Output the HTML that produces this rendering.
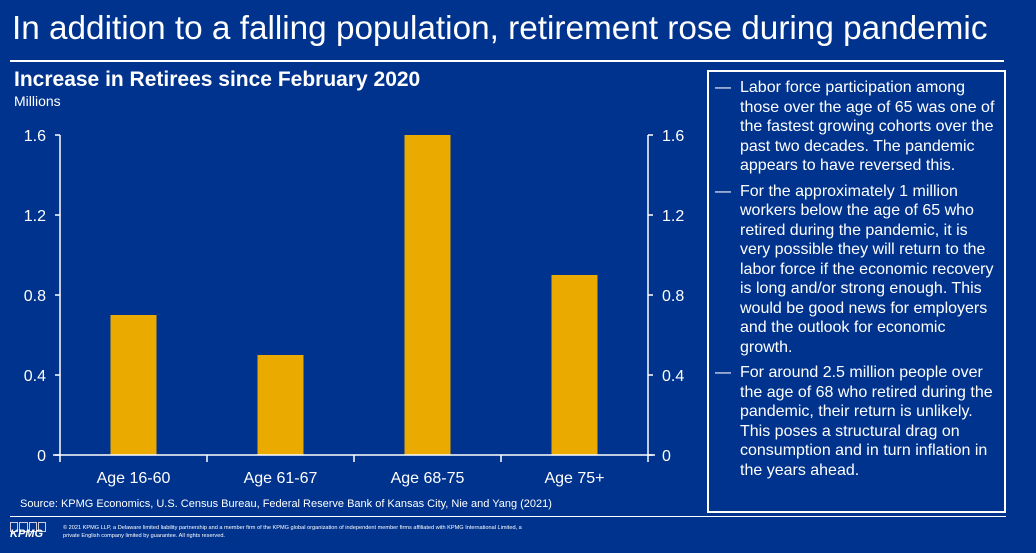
<!DOCTYPE html>
<html><head><meta charset="utf-8"><style>
body{margin:0;width:1036px;height:553px;background:#00338d;overflow:hidden;font-family:"Liberation Sans",Arial,sans-serif;color:#fff;position:relative}
.abs{position:absolute}
#box p{margin:0 0 6px 0;position:relative;padding-left:31px;font-size:16px;line-height:19.5px}
#box p span.d{position:absolute;left:6px;top:0}
</style></head><body>
<div class="abs" style="left:12px;top:10px;font-size:33.3px;white-space:nowrap">In addition to a falling population, retirement rose during pandemic</div>
<div class="abs" style="left:10px;top:60px;width:994px;height:2px;background:#fff"></div>
<div class="abs" style="left:14px;top:68px;font-size:21px;font-weight:bold">Increase in Retirees since February 2020</div>
<div class="abs" style="left:14px;top:93px;font-size:14px">Millions</div>
<svg class="abs" style="left:0;top:0" width="700" height="500">
<g id="g"></g></svg>
<div class="abs" id="box" style="left:707px;top:70px;width:299px;height:443px;border:2px solid #fff;padding-top:6px;padding-right:6px;box-sizing:border-box">
<p><span class="d">—</span>Labor force participation among those over the age of 65 was one of the fastest growing cohorts over the past two decades. The pandemic appears to have reversed this.</p>
<p><span class="d">—</span>For the approximately 1 million workers below the age of 65 who retired during the pandemic, it is very possible they will return to the labor force if the economic recovery is long and/or strong enough. This would be good news for employers and the outlook for economic growth.</p>
<p><span class="d">—</span>For around 2.5 million people over the age of 68 who retired during the pandemic, their return is unlikely. This poses a structural drag on consumption and in turn inflation in the years ahead.</p>
</div>
<div class="abs" style="left:20px;top:498px;font-size:11px">Source: KPMG Economics, U.S. Census Bureau, Federal Reserve Bank of Kansas City, Nie and Yang (2021)</div>
<div class="abs" style="left:10px;top:516px;width:996px;height:1px;background:#fff"></div>
<div class="abs" style="left:10px;top:522px;width:36px;height:22px">
<div style="display:flex;gap:1px"><div style="width:8px;height:8px;border:1px solid #ccd"></div><div style="width:8px;height:8px;border:1px solid #ccd"></div><div style="width:8px;height:8px;border:1px solid #ccd"></div><div style="width:8px;height:8px;border:1px solid #ccd"></div></div>
<div style="font-size:11px;font-weight:bold;font-style:italic;margin-top:-4px">KPMG</div></div>
<div class="abs" style="left:63px;top:524px;font-size:5.6px;line-height:8px;width:475px">© 2021 KPMG LLP, a Delaware limited liability partnership and a member firm of the KPMG global organization of independent member firms affiliated with KPMG International Limited, a private English company limited by guarantee. All rights reserved.</div>
<script>
const categories=["Age 16-60","Age 61-67","Age 68-75","Age 75+"];
const values=[0.7,0.5,1.6,0.9];
const yTicks=[0,0.4,0.8,1.2,1.6];
const tickLabels=["0","0.4","0.8","1.2","1.6"];
const X0=60,X1=648,Y0=455,Y1=135,YMAX=1.6;
const y=v=>Y0-(v/YMAX)*(Y0-Y1);
const bw=(X1-X0)/categories.length;
const x=i=>X0+i*bw;
const g=document.getElementById('g');
const NS="http://www.w3.org/2000/svg";
function mk(t,a){const e=document.createElementNS(NS,t);for(const k in a)e.setAttribute(k,a[k]);g.appendChild(e);return e;}
values.forEach((v,i)=>{const r=mk('rect',{x:x(i)+bw/2-23,y:y(v),width:46,height:Y0-y(v),fill:'#eaaa00'});

});
const la=mk('path',{d:`M${X0} ${Y1}V${Y0}M${X1} ${Y1}V${Y0}M${X0-7} ${Y0}H${X1+7}`,stroke:'#fff','stroke-width':1.5,fill:'none'});


yTicks.forEach((t,i)=>{const yy=y(t);
mk('path',{d:`M${X0-5} ${yy}H${X0}M${X1} ${yy}H${X1+5}`,stroke:'#fff','stroke-width':1.5});
const a=mk('text',{x:46,y:yy+6,'text-anchor':'end','font-size':16,fill:'#fff'});a.textContent=tickLabels[i];


const b=mk('text',{x:662,y:yy+6,'font-size':16,fill:'#fff'});b.textContent=tickLabels[i];

});
for(let i=0;i<=categories.length;i++)mk('path',{d:`M${x(i)} ${Y0}v7`,stroke:'#fff','stroke-width':1.5});
categories.forEach((c,i)=>{const t=mk('text',{x:x(i)+bw/2,y:Y0+28,'text-anchor':'middle','font-size':16,fill:'#fff'});t.textContent=c;

});
</script>
</body></html>
